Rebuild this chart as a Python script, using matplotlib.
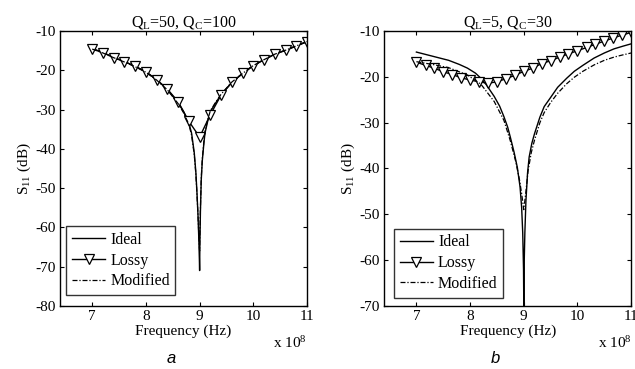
import matplotlib
matplotlib.use("Agg")
import matplotlib.pyplot as plt

plt.rcParams["font.family"] = ["Liberation Serif", "DejaVu Serif"]
plt.rcParams["mathtext.fontset"] = "custom"
plt.rcParams["mathtext.rm"] = "Liberation Serif"
plt.rcParams["mathtext.it"] = "Liberation Serif:italic"
plt.rcParams["axes.unicode_minus"] = False
plt.rcParams["font.size"] = 11

# ---- panel a: QL=50, QC=100 (frequency in units of 1e8 Hz) ----
fa_ideal = [7.0, 7.2, 7.4, 7.6, 7.8, 8.0, 8.2, 8.4, 8.6, 8.7, 8.8, 8.85, 8.9, 8.93,
            8.95, 8.97, 8.985, 8.995, 9.0, 9.005, 9.015, 9.03, 9.05, 9.08, 9.1,
            9.15, 9.2, 9.3, 9.4, 9.6, 9.8, 10.0, 10.2, 10.4, 10.6, 10.8, 11.0]
sa_ideal = [-14.5, -15.5, -16.7, -17.8, -19.0, -20.4, -22.4, -24.9, -28.3, -30.5,
            -33.5, -36.0, -41.0, -46.0, -51.0, -57.0, -63.0, -68.0, -71.0, -64.0,
            -56.0, -48.0, -43.0, -38.5, -36.0, -33.0, -30.5, -28.3, -26.2, -23.1,
            -20.8, -18.8, -17.3, -15.9, -14.9, -13.8, -12.7]
sa_mod = [-14.6, -15.6, -16.8, -17.9, -19.1, -20.5, -22.5, -25.0, -28.5, -30.8,
          -33.8, -36.5, -41.5, -46.5, -51.5, -57.0, -62.0, -65.0, -66.0, -62.0,
          -55.0, -47.5, -42.5, -38.0, -35.5, -32.6, -30.3, -28.1, -26.1, -23.0,
          -20.8, -18.8, -17.3, -15.9, -14.9, -13.8, -12.7]
fa_lossy = [7.0, 7.2, 7.4, 7.6, 7.8, 8.0, 8.2, 8.4, 8.6, 8.8, 9.0,
            9.2, 9.4, 9.6, 9.8, 10.0, 10.2, 10.4, 10.6, 10.8, 11.0]
sa_lossy = [-14.5, -15.5, -16.8, -17.8, -19.0, -20.4, -22.4, -24.8, -28.0, -33.0, -37.0,
            -31.3, -26.3, -23.1, -20.8, -18.8, -17.3, -15.9, -14.9, -13.8, -12.7]

# ---- panel b: QL=5, QC=30 ----
fb_ideal = [7.0, 7.3, 7.6, 7.8, 7.95, 8.1, 8.2, 8.3, 8.45, 8.55, 8.63, 8.7, 8.75,
            8.82, 8.88, 8.93, 8.96, 8.98, 8.995, 9.0, 9.005, 9.02, 9.04, 9.07, 9.1,
            9.15, 9.2, 9.3, 9.38, 9.5, 9.63, 9.8, 9.94, 10.1, 10.31, 10.5, 10.68,
            10.85, 11.0]
sb_ideal = [-14.6, -15.5, -16.4, -17.3, -18.1, -19.2, -20.3, -21.7, -24.3, -26.4,
            -28.7, -31.0, -33.2, -36.5, -39.8, -44.0, -48.5, -54.0, -62.0, -70.0,
            -62.0, -54.0, -47.0, -41.0, -37.5, -34.5, -32.4, -28.8, -26.5, -24.5,
            -22.3, -20.3, -18.8, -17.5, -15.9, -14.8, -13.9, -13.3, -12.8]
fb_mod = [7.0, 7.3, 7.6, 7.95, 8.2, 8.45, 8.63, 8.75, 8.85, 8.92, 8.96, 9.0,
          9.04, 9.08, 9.14, 9.2, 9.3, 9.38, 9.5, 9.63, 9.8, 9.94, 10.1, 10.31,
          10.5, 10.68, 10.85, 11.0]
sb_mod = [-16.7, -17.3, -18.0, -19.6, -21.6, -25.4, -29.5, -34.0, -38.5, -42.5,
          -45.5, -49.0, -45.0, -40.5, -36.5, -33.8, -30.0, -27.8, -25.6, -23.6,
          -21.5, -20.1, -18.8, -17.4, -16.4, -15.7, -15.2, -14.8]
fb_lossy = [7.0, 7.17, 7.33, 7.5, 7.67, 7.83, 8.0, 8.17, 8.33, 8.5, 8.67, 8.83, 9.0,
            9.17, 9.33, 9.5, 9.67, 9.83, 10.0, 10.17, 10.33, 10.5, 10.67, 10.83, 11.0]
sb_lossy = [-16.8, -17.5, -18.1, -18.9, -19.5, -20.2, -20.7, -21.1, -21.4, -21.1,
            -20.4, -19.7, -18.8, -18.1, -17.1, -16.5, -15.7, -15.0, -14.3, -13.6,
            -12.9, -12.2, -11.5, -10.9, -10.3]

fig = plt.figure(figsize=(6.35, 3.69), dpi=100)
ax1 = fig.add_axes([0.0945, 0.171, 0.389, 0.745])
ax2 = fig.add_axes([0.605, 0.171, 0.389, 0.745])

panels = [
    (ax1, fa_ideal, sa_ideal, fa_ideal, sa_mod, fa_lossy, sa_lossy,
     r"Q$_{\rm L}$=50, Q$_{\rm C}$=100", -80, "a", (0.025, 0.04)),
    (ax2, fb_ideal, sb_ideal, fb_mod, sb_mod, fb_lossy, sb_lossy,
     r"Q$_{\rm L}$=5, Q$_{\rm C}$=30", -70, "b", (0.04, 0.03)),
]

for ax, fi, si, fm, sm, fl, sl, title, ymin, tag, legpos in panels:
    ax.plot(fi, si, color="black", lw=1.0, label="Ideal")
    ax.plot(fl, sl, color="black", lw=1.0, marker="v", ms=6.5, mfc="white",
            mec="black", mew=0.9, label="Lossy")
    ax.plot(fm, sm, color="black", lw=0.9, dashes=(4, 1.5, 1, 1.5), label="Modified")
    ax.set_xlim(6.4, 11)
    ax.set_ylim(ymin, -10)
    ax.set_xticks([7, 8, 9, 10, 11])
    ax.set_yticks(range(ymin, -9, 10))
    ax.tick_params(direction="in", top=True, right=True, length=3, width=0.8, pad=3)
    for s in ax.spines.values():
        s.set_linewidth(1.0)
    ax.set_title(title, fontsize=11.5, pad=3)
    ax.set_xlabel("Frequency (Hz)", labelpad=1)
    ax.set_ylabel(r"S$_{11}$ (dB)", labelpad=2)
    ax.text(1.0, -0.135, r"x 10$^8$", transform=ax.transAxes, ha="right", va="center")
    ax.text(0.45, -0.19, tag, transform=ax.transAxes, ha="center", va="center",
            fontsize=12, style="italic", family="Liberation Sans")
    leg = ax.legend(loc="lower left", bbox_to_anchor=legpos, frameon=True, fancybox=False,
                    edgecolor="black", handlelength=2.1, handletextpad=0.3,
                    borderpad=0.35, labelspacing=0.3, borderaxespad=0.0, fontsize=11.5)
    leg.get_frame().set_linewidth(1.0)

fig.savefig("out.png", dpi=100)
